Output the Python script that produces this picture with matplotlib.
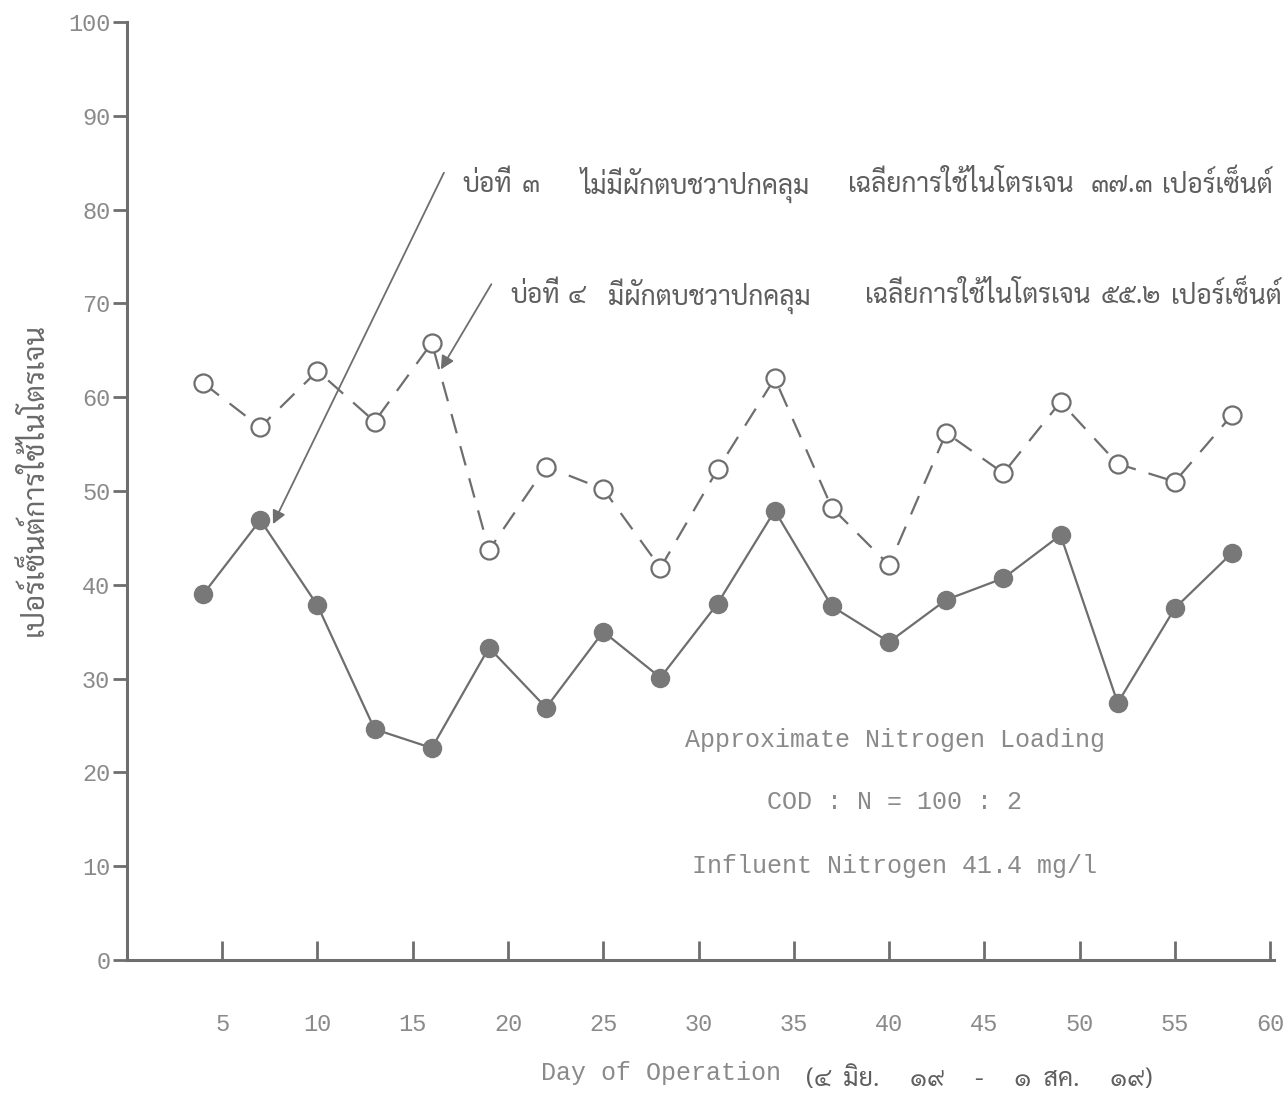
import matplotlib
matplotlib.use("Agg")
import matplotlib.pyplot as plt

# day of operation for each sample
days = [4, 7, 10, 13, 16, 19, 22, 25, 28, 31, 34, 37, 40, 43, 46, 49, 52, 55, 58]

# pond 3, no water hyacinth cover (filled markers, solid line)
pond3 = [39.0, 46.9, 37.8, 24.6, 22.6, 33.3, 26.9, 35.0, 30.1, 38.0,
         47.9, 37.7, 33.9, 38.4, 40.7, 45.3, 27.4, 37.5, 43.4]

# pond 4, covered with water hyacinth (open markers, dashed line)
pond4 = [61.5, 56.8, 62.8, 57.4, 65.8, 43.7, 52.6, 50.2, 41.8, 52.3,
         62.0, 48.2, 42.1, 56.2, 51.9, 59.5, 52.9, 51.0, 58.1]

x_ticks = [5, 10, 15, 20, 25, 30, 35, 40, 45, 50, 55, 60]
y_ticks = [0, 10, 20, 30, 40, 50, 60, 70, 80, 90, 100]

# pond labels, typed phrase by phrase (text, x position in days)
label_pond3 = [("บ่อที่", 17.6), ("๓", 20.7), ("ไม่มีผักตบชวาปกคลุม", 23.8),
               ("เฉลี่ยการใช้ไนโตรเจน", 37.85), ("๓๗.๓", 50.6),
               ("เปอร์เซ็นต์", 54.3)]
label_pond4 = [("บ่อที่", 20.1), ("๔", 23.15), ("มีผักตบชวาปกคลุม", 25.25),
               ("เฉลี่ยการใช้ไนโตรเจน", 38.75), ("๕๕.๒", 51.1),
               ("เปอร์เซ็นต์", 54.8)]
y_label = "เปอร์เซ็นต์การใช้ไนโตรเจน"
x_label = "Day of Operation"
x_label_dates = "(๔  มิย.     ๑๙     -     ๑  สค.     ๑๙)"
notes = ["Approximate Nitrogen Loading", "COD : N = 100 : 2",
         "Influent Nitrogen 41.4 mg/l"]

THAI = ["Sarabun", "Krub", "Trirong", "DejaVu Sans"]
MONO = ["Liberation Mono", "DejaVu Sans Mono"]
INK = "#6e6e6e"
TXT = "#8a8a8a"
THAI_INK = "#5e5e5e"

fig = plt.figure(figsize=(12.85, 11), dpi=100)
ax = fig.add_axes([0.0988, 0.1273, 0.8926, 0.8527])

ax.plot(days, pond4, color=INK, lw=1.6, dashes=(9, 6), marker="o", ms=13,
        mfc="white", mec=INK, mew=1.6, zorder=3)
ax.plot(days, pond3, color=INK, lw=1.6, marker="o", ms=13,
        mfc="#787878", mec="#787878", zorder=3)

ax.set_xlim(0, 60.2)
ax.set_ylim(0, 100)
ax.set_xticks(x_ticks)
ax.set_yticks(y_ticks)
ax.set_xticklabels([str(t) for t in x_ticks], family=MONO, fontsize=17, color=TXT)
ax.set_yticklabels([str(t) for t in y_ticks], family=MONO, fontsize=17, color=TXT)
ax.tick_params(axis="x", direction="in", length=14, width=2, color=INK, pad=38)
ax.tick_params(axis="y", direction="out", length=10, width=2, color=INK, pad=2)

for side in ("top", "right"):
    ax.spines[side].set_visible(False)
for side in ("left", "bottom"):
    ax.spines[side].set_color(INK)
    ax.spines[side].set_linewidth(2.2)

# pointers from the pond labels to their lines
arrow = dict(arrowstyle="-|>", color=INK, lw=1.3, mutation_scale=20)
ax.annotate("", xy=(7.6, 46.2), xytext=(16.7, 84.2), arrowprops=arrow)
ax.annotate("", xy=(16.4, 62.7), xytext=(19.2, 72.3), arrowprops=arrow)

for words, yv in ((label_pond3, 82.6), (label_pond4, 70.8)):
    for word, xv in words:
        ax.text(xv, yv, word, family=THAI, fontsize=19, color=THAI_INK,
                va="center", ha="left", clip_on=False)

for (yv, s) in zip([23.5, 16.8, 10.0], notes):
    ax.text(40.3, yv, s, family=MONO, fontsize=18, color=TXT,
            ha="center", va="center")

fig.text(35 / 1285, 1 - 479 / 1100, y_label, family=THAI, fontsize=21,
         color="#6a6a6a", rotation=90, ha="center", va="center")
fig.text(541 / 1285, 1 - 1073 / 1100, x_label, family=MONO, fontsize=18,
         color=TXT, ha="left", va="center")
fig.text(806 / 1285, 1 - 1080 / 1100, x_label_dates, family=THAI, fontsize=18,
         color=THAI_INK, ha="left", va="center")

fig.savefig("out.png", dpi=100)
